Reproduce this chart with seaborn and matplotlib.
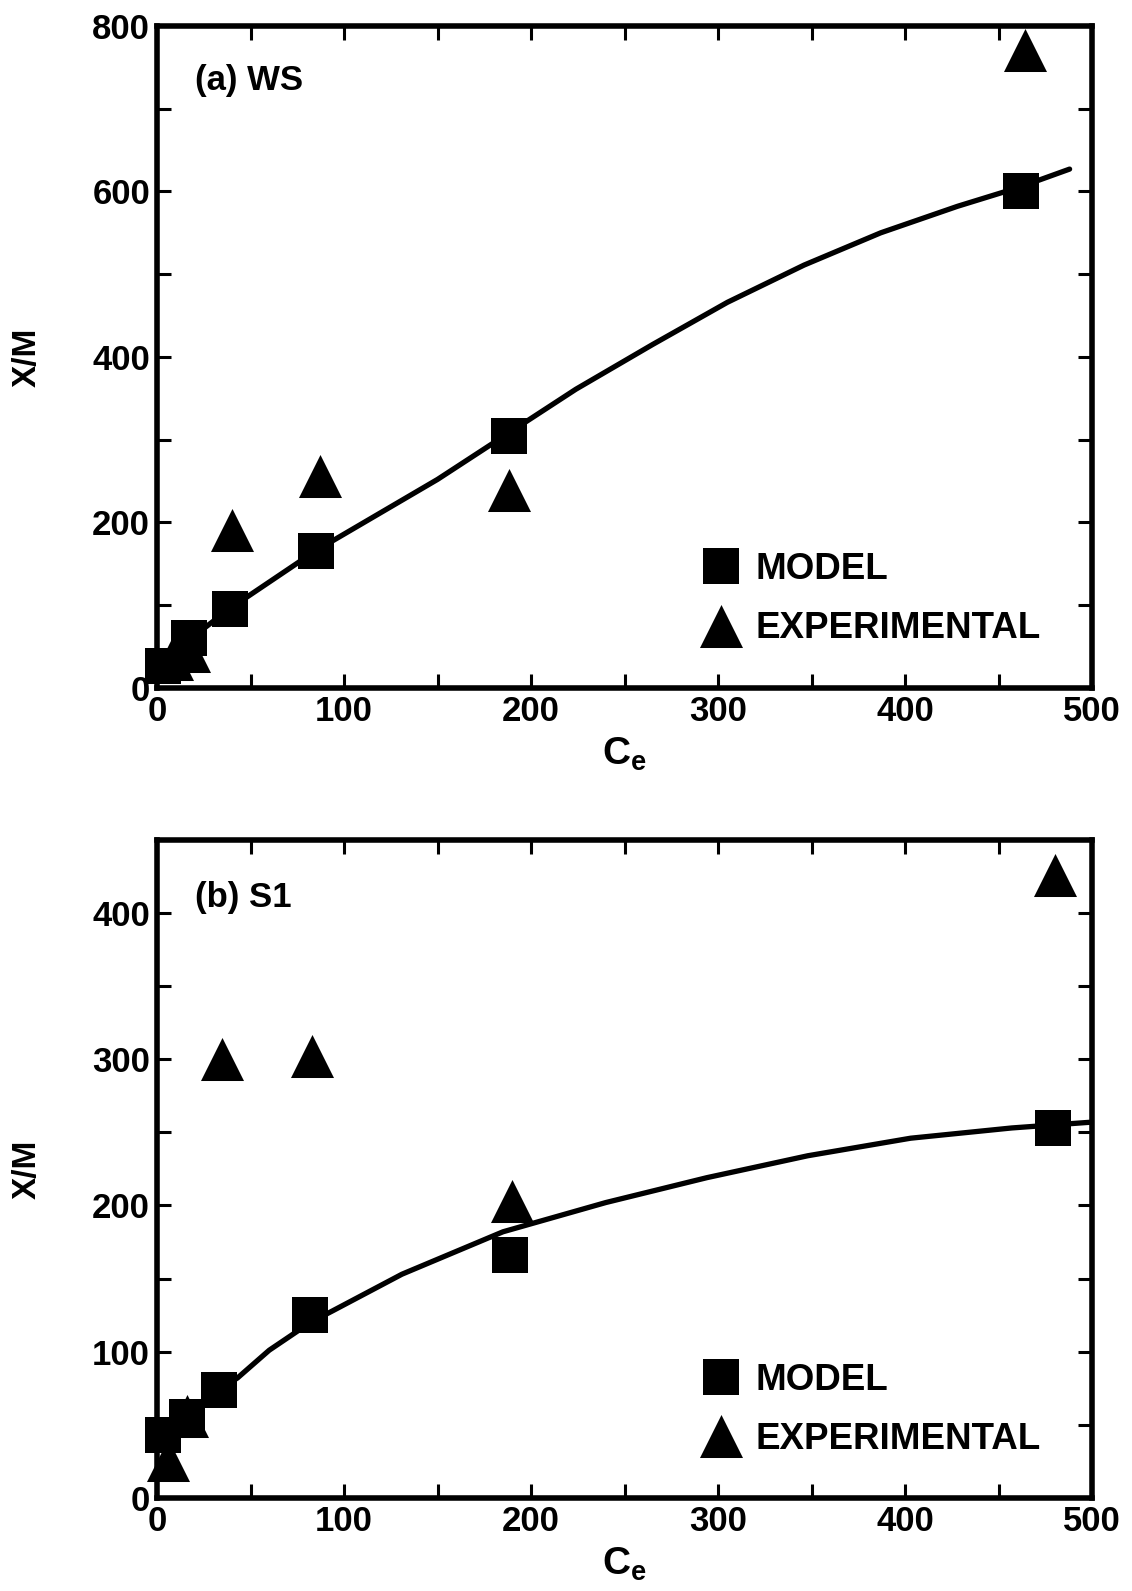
import matplotlib
matplotlib.use("Agg")
import matplotlib.pyplot as plt
import seaborn as sns
from matplotlib.ticker import MultipleLocator

# (a) WS
ws_model_x = [3, 17, 39, 85, 188, 462]
ws_model_y = [27, 60, 96, 166, 305, 600]
ws_exp_x = [8, 17, 40, 87, 188, 464]
ws_exp_y = [35, 45, 191, 256, 239, 771]
ws_fit_x = [3, 17, 39, 85, 150, 188, 224, 265, 305, 346, 387, 428, 461, 488]
ws_fit_y = [27, 58, 96, 166, 252, 308, 361, 415, 466, 511, 550, 582, 605, 627]

# (b) S1
s1_model_x = [3, 16, 33, 82, 189, 479]
s1_model_y = [43, 55, 74, 125, 166, 253]
s1_exp_x = [6, 16, 35, 83, 190, 480]
s1_exp_y = [26, 56, 300, 302, 203, 426]
s1_fit_x = [3, 16, 33, 43, 60, 82, 94, 131, 185, 240, 294, 348, 403, 457, 500]
s1_fit_y = [43, 55, 74, 82, 101, 120, 128, 153, 182, 202, 219, 234, 246, 253, 257]

sns.set_style("white")
plt.rcParams['font.family'] = ['Liberation Sans', 'DejaVu Sans']
plt.rcParams['font.weight'] = 'bold'
plt.rcParams['mathtext.default'] = 'regular'
plt.rcParams['text.color'] = 'black'
plt.rcParams['xtick.color'] = 'black'
plt.rcParams['ytick.color'] = 'black'
plt.rcParams['axes.labelcolor'] = 'black'
plt.rcParams['axes.labelweight'] = 'bold'


def draw_panel(ax, mx, my, ex, ey, fx, fy, ymax, ymaj, ymin, tag, tag_y):
    sns.lineplot(x=fx, y=fy, ax=ax, color='black', linewidth=3.8,
                 estimator=None, sort=False)
    sns.scatterplot(x=mx, y=my, ax=ax, marker='s', s=700, color='black',
                    linewidth=0, label='MODEL', clip_on=False, zorder=3)
    sns.scatterplot(x=ex, y=ey, ax=ax, marker='^', s=960, color='black',
                    linewidth=0, label='EXPERIMENTAL', clip_on=False, zorder=3)

    ax.set_xlim(0, 500)
    ax.set_ylim(0, ymax)
    ax.xaxis.set_major_locator(MultipleLocator(100))
    ax.xaxis.set_minor_locator(MultipleLocator(50))
    ax.yaxis.set_major_locator(MultipleLocator(ymaj))
    ax.yaxis.set_minor_locator(MultipleLocator(ymin))
    ax.tick_params(which='both', direction='in', length=10, width=2.2,
                   top=True, right=True, bottom=True, left=True)
    ax.tick_params(which='major', labelsize=25, pad=5)
    for sp in ax.spines.values():
        sp.set_linewidth(4)
        sp.set_color('black')

    ax.set_xlabel('C$_e$', fontsize=28)
    ax.set_ylabel('X/M', fontsize=24)
    ax.xaxis.set_label_coords(0.5, -0.072)
    ax.yaxis.set_label_coords(-0.122, 0.5)

    ax.text(0.041, tag_y, tag, transform=ax.transAxes, fontsize=25,
            ha='left', va='center')

    handles, labels = ax.get_legend_handles_labels()
    ax.legend(handles, labels, loc='center left', bbox_to_anchor=(0.583, 0.134),
              frameon=False, fontsize=26.5, handlelength=1.0, handletextpad=0.45,
              labelspacing=0.66, borderpad=0, borderaxespad=0,
              scatterpoints=1, scatteryoffsets=[0.5])


fig = plt.figure(figsize=(11.32, 15.91), dpi=100)
ax1 = fig.add_axes([0.1387, 0.5676, 0.826, 0.4161])
ax2 = fig.add_axes([0.1387, 0.0585, 0.826, 0.4136])

draw_panel(ax1, ws_model_x, ws_model_y, ws_exp_x, ws_exp_y, ws_fit_x, ws_fit_y,
           800, 200, 100, '(a) WS', 0.917)
draw_panel(ax2, s1_model_x, s1_model_y, s1_exp_x, s1_exp_y, s1_fit_x, s1_fit_y,
           450, 100, 50, '(b) S1', 0.912)

fig.savefig('out.png', dpi=100)
